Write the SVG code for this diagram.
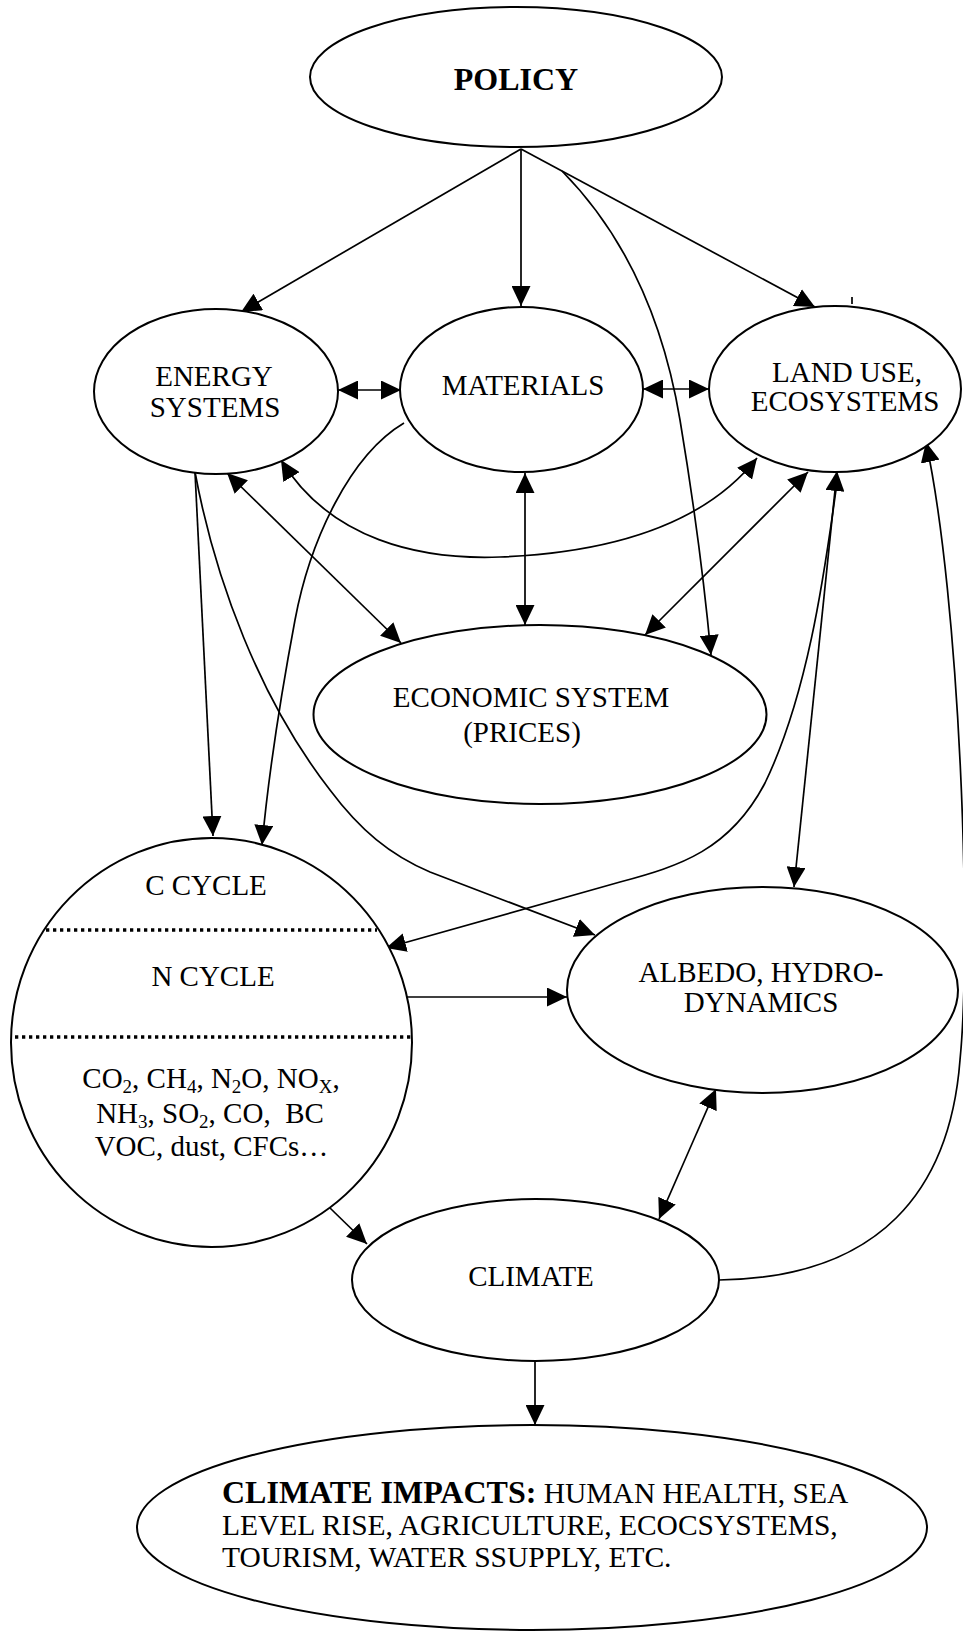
<svg xmlns="http://www.w3.org/2000/svg" width="963" height="1632" viewBox="0 0 963 1632">
<style>
.n{fill:#fff;stroke:#000;stroke-width:2}
.t{font-family:"Liberation Serif","Times New Roman",serif;font-size:29px;fill:#000;text-anchor:middle}
.b{font-weight:bold}
.c{fill:none;stroke:#000;stroke-width:1.7}
.e{marker-end:url(#ah)}
.d{marker-start:url(#ah);marker-end:url(#ah)}
.dot{stroke:#000;stroke-width:3.3;stroke-dasharray:3.3 3.7;fill:none}
.sub{font-size:19px}
</style>
<defs>
<marker id="ah" markerUnits="userSpaceOnUse" markerWidth="21" markerHeight="19" refX="20" refY="9.5" orient="auto-start-reverse" viewBox="0 0 21 19">
<path d="M0,0 L20,9.5 L0,19 z" fill="#000"/>
</marker>
</defs>
<rect width="963" height="1632" fill="#fff"/>

<g id="connectors">
<path class="c e" d="M521,149 L241,312"/>
<path class="c e" d="M521,149 L521,306"/>
<path class="c e" d="M521,149 L815,307"/>
<path class="c e" d="M562,171 C630,240 665,330 680,420 C695,510 705,590 711,655"/>
<path class="c e" d="M404,423 C350,455 310,540 295,620 C280,700 268,780 262,845"/>
<path class="c e" d="M195,472 L213,836"/>
<path class="c e" d="M195,472 C215,580 260,700 330,790 C360,830 390,855 430,872 L595,935"/>
<path class="c d" d="M227,473 L401,643"/>
<path class="c d" d="M281,460 C330,540 420,560 500,557 C600,553 700,530 757,458"/>
<path class="c d" d="M525,473 L525,625"/>
<path class="c d" d="M808,472 L645,635"/>
<path class="c d" d="M837,471 L794,887"/>
<path class="c e" d="M836,490 C826,560 810,690 765,783 C730,850 680,866 620,882 L386,948"/>
<path class="c d" d="M338,390 L401,390"/>
<path class="c d" d="M643,389 L709,389"/>
<path class="c e" d="M406,997 L567,997"/>
<path class="c d" d="M716,1089 L659,1219"/>
<path class="c e" d="M330,1208 L367,1244"/>
<path class="c e" d="M535,1359 L535,1425"/>
<path class="c e" d="M719,1280 C880,1278 950,1190 960,1060 C972,940 960,600 926,442"/>
<path class="c" d="M852,297 L852,304"/>
</g>

<g id="policy">
<ellipse class="n" cx="516" cy="77" rx="206" ry="70"/>
<text class="t b" x="516" y="90" style="font-size:32px">POLICY</text>
</g>

<g id="energy">
<ellipse class="n" cx="216" cy="391.5" rx="122" ry="82.5"/>
<text class="t" x="214" y="386">ENERGY</text>
<text class="t" x="215" y="417">SYSTEMS</text>
</g>

<g id="materials">
<ellipse class="n" cx="521.5" cy="389.5" rx="121.5" ry="82.5"/>
<text class="t" x="523" y="395">MATERIALS</text>
</g>

<g id="landuse">
<ellipse class="n" cx="835" cy="389" rx="126" ry="83"/>
<text class="t" x="847" y="382">LAND USE,</text>
<text class="t" x="845" y="411">ECOSYSTEMS</text>
</g>

<g id="economic">
<ellipse class="n" cx="540" cy="714.5" rx="226.5" ry="89.5"/>
<text class="t" x="531" y="707">ECONOMIC SYSTEM</text>
<text class="t" x="522" y="742">(PRICES)</text>
</g>

<g id="cycles">
<ellipse class="n" cx="211.5" cy="1042.5" rx="200.5" ry="204.5"/>
<line class="dot" x1="46" y1="930" x2="377" y2="930"/>
<line class="dot" x1="15" y1="1037" x2="412" y2="1037"/>
<text class="t" x="206" y="895">C CYCLE</text>
<text class="t" x="213" y="986">N CYCLE</text>
<text class="t" x="211" y="1088">CO<tspan class="sub" dy="5">2</tspan><tspan dy="-5">, CH</tspan><tspan class="sub" dy="5">4</tspan><tspan dy="-5">, N</tspan><tspan class="sub" dy="5">2</tspan><tspan dy="-5">O, NO</tspan><tspan class="sub" dy="5">X</tspan><tspan dy="-5">,</tspan></text>
<text class="t" x="210" y="1123" xml:space="preserve">NH<tspan class="sub" dy="5">3</tspan><tspan dy="-5">, SO</tspan><tspan class="sub" dy="5">2</tspan><tspan dy="-5">, CO,  BC</tspan></text>
<text class="t" x="211.5" y="1156">VOC, dust, CFCs…</text>
</g>

<g id="albedo">
<ellipse class="n" cx="762.5" cy="990" rx="195.5" ry="103"/>
<text class="t" x="761" y="982">ALBEDO, HYDRO-</text>
<text class="t" x="761" y="1012">DYNAMICS</text>
</g>

<g id="climate">
<ellipse class="n" cx="535.5" cy="1280" rx="183.5" ry="81"/>
<text class="t" x="531" y="1286">CLIMATE</text>
</g>

<g id="impacts">
<ellipse class="n" cx="532" cy="1527.5" rx="395" ry="102.5"/>
<text class="t" x="222" y="1503" style="text-anchor:start;font-size:29.5px"><tspan class="b" style="font-size:32px">CLIMATE IMPACTS:</tspan> HUMAN HEALTH, SEA</text>
<text class="t" x="222" y="1535" style="text-anchor:start;font-size:29.5px">LEVEL RISE, AGRICULTURE, ECOCSYSTEMS,</text>
<text class="t" x="222" y="1567" style="text-anchor:start;font-size:29.5px">TOURISM, WATER SSUPPLY, ETC.</text>
</g>
</svg>
